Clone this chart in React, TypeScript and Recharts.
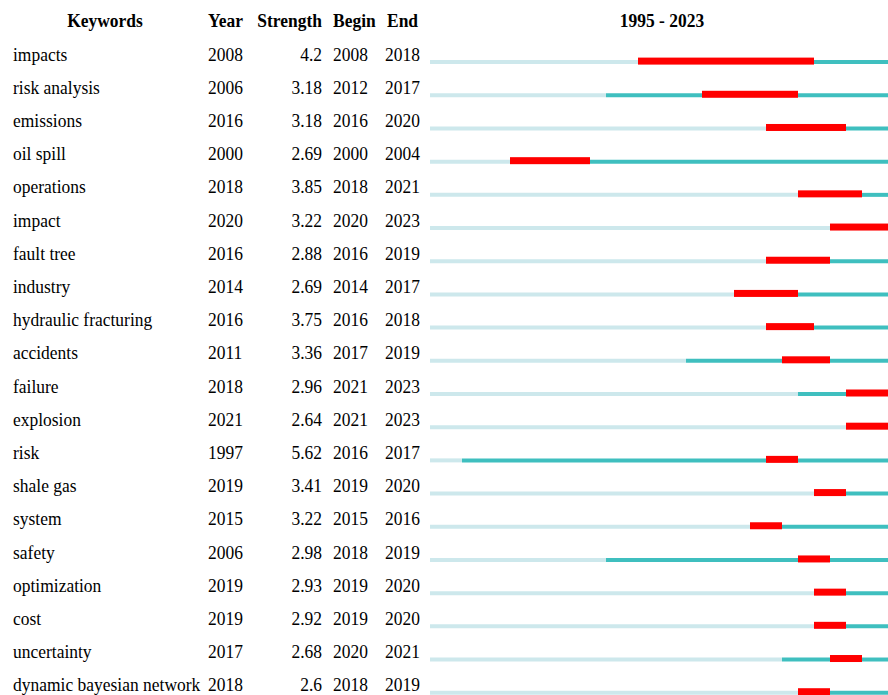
import { BarChart, Bar, XAxis, YAxis } from "recharts";

// Citation bursts, first year of the time slice to last
const START_YEAR = 1995;
const END_YEAR = 2023;

const keywords = [
  "impacts",
  "risk analysis",
  "emissions",
  "oil spill",
  "operations",
  "impact",
  "fault tree",
  "industry",
  "hydraulic fracturing",
  "accidents",
  "failure",
  "explosion",
  "risk",
  "shale gas",
  "system",
  "safety",
  "optimization",
  "cost",
  "uncertainty",
  "dynamic bayesian network",
];
const years = [2008, 2006, 2016, 2000, 2018, 2020, 2016, 2014, 2016, 2011, 2018, 2021, 1997, 2019, 2015, 2006, 2019, 2019, 2017, 2018];
const strengths = [4.2, 3.18, 3.18, 2.69, 3.85, 3.22, 2.88, 2.69, 3.75, 3.36, 2.96, 2.64, 5.62, 3.41, 3.22, 2.98, 2.93, 2.92, 2.68, 2.6];
const begins = [2008, 2012, 2016, 2000, 2018, 2020, 2016, 2014, 2016, 2017, 2021, 2021, 2016, 2019, 2015, 2018, 2019, 2019, 2020, 2018];
const ends = [2018, 2017, 2020, 2004, 2021, 2023, 2019, 2017, 2018, 2019, 2023, 2023, 2017, 2020, 2016, 2019, 2020, 2020, 2021, 2019];

const SPAN = END_YEAR + 1 - START_YEAR;

// each row is a stack: before first appearance, present, burst, after burst
const rows = keywords.map((keyword, i) => ({
  keyword,
  before: years[i] - START_YEAR,
  lead: begins[i] - years[i],
  burst: ends[i] + 1 - begins[i],
  tail: END_YEAR + 1 - (ends[i] + 1),
}));

const FONT = "'Liberation Serif', 'Times New Roman', serif";
const SQUASH = 0.92;

function Cell({ x, y, text, anchor = "start", bold = false }: { x: number; y: number; text: string; anchor?: "start" | "middle" | "end"; bold?: boolean }) {
  return (
    <g transform={`translate(${x},${y}) scale(${SQUASH},1)`}>
      <text x={0} y={0} textAnchor={anchor} fontFamily={FONT} fontSize={19} fontWeight={bold ? 700 : 400} fill="#000">
        {text}
      </text>
    </g>
  );
}

function RowTick(props: any) {
  const { y, index } = props;
  const base = y - 1;
  return (
    <g>
      <Cell x={13} y={base} text={keywords[index]} />
      <Cell x={208} y={base} text={String(years[index])} />
      <Cell x={322} y={base} text={String(strengths[index])} anchor="end" />
      <Cell x={333} y={base} text={String(begins[index])} />
      <Cell x={385} y={base} text={String(ends[index])} />
    </g>
  );
}

function BurstShape(props: any) {
  const { x, y, width, height } = props;
  if (!width) return null;
  return <rect x={x} y={y - 2.5} width={width} height={height + 3} fill="#ff0000" />;
}

export default function App() {
  return (
    <div style={{ position: "fixed", left: 0, top: 0, width: 888, height: 695, background: "#fff" }}>
      <BarChart
        layout="vertical"
        width={888}
        height={695}
        data={rows}
        margin={{ top: 45.1, right: -6, bottom: -13.9, left: 0 }}
        barCategoryGap={0}
      >
        <XAxis type="number" domain={[0, SPAN]} hide />
        <YAxis
          type="category"
          dataKey="keyword"
          width={430}
          axisLine={false}
          tickLine={false}
          interval={0}
          tick={<RowTick />}
        />
        <Bar dataKey="before" stackId="t" fill="#cde8ec" barSize={4} isAnimationActive={false} />
        <Bar dataKey="lead" stackId="t" fill="#3fbfbf" barSize={4} isAnimationActive={false} />
        <Bar dataKey="burst" stackId="t" fill="#ff0000" barSize={4} shape={<BurstShape />} isAnimationActive={false} />
        <Bar dataKey="tail" stackId="t" fill="#3fbfbf" barSize={4} isAnimationActive={false} />
        <g>
          <Cell x={105} y={27} text="Keywords" anchor="middle" bold />
          <Cell x={208} y={27} text="Year" bold />
          <Cell x={322} y={27} text="Strength" anchor="end" bold />
          <Cell x={333} y={27} text="Begin" bold />
          <Cell x={387} y={27} text="End" bold />
          <Cell x={662} y={27} text={`${START_YEAR} - ${END_YEAR}`} anchor="middle" bold />
        </g>
      </BarChart>
    </div>
  );
}
